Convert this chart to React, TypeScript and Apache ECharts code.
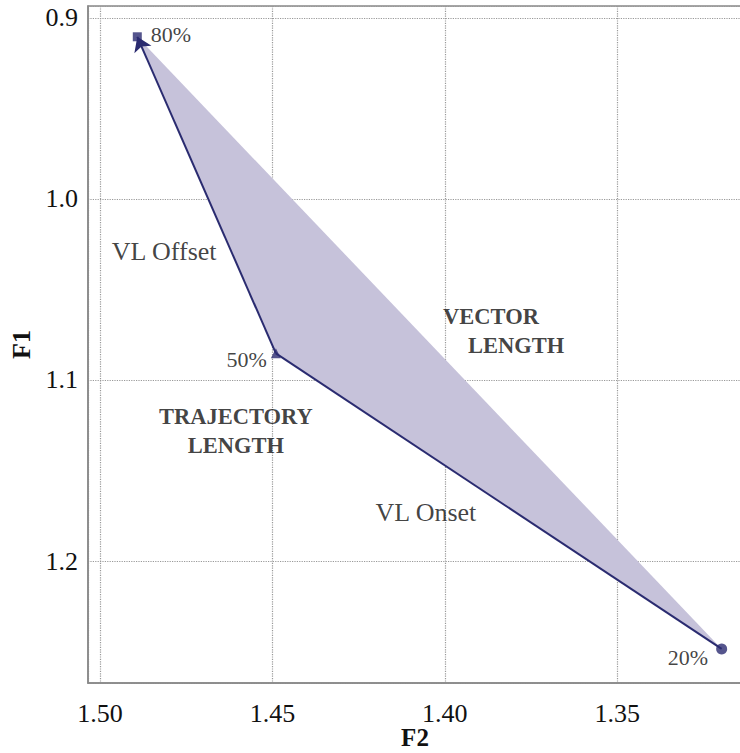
import React, { useEffect, useRef } from "react";
import * as echarts from "echarts";

// Trajectory points (F2 on x, F1 on y)
const pointLabels = ["80%", "50%", "20%"];
const f2Values = [1.4892, 1.449, 1.3197];
const f1Values = [0.9105, 1.0853, 1.2485];

// Annotation texts placed at data coordinates
const plainNotes = ["VL Offset", "VL Onset"];
const plainNoteF2 = [1.4814, 1.4055];
const plainNoteF1 = [1.0289, 1.1734];
const boldNotes = ["VECTOR", "LENGTH", "TRAJECTORY", "LENGTH"];
const boldNoteF2 = [1.3866, 1.3793, 1.4606, 1.4606];
const boldNoteF1 = [1.0652, 1.0812, 1.1204, 1.1359];

// Axis extents
const xMin = 1.3138;
const xMax = 1.5035;
const yMin = 0.8935;
const yMax = 1.2673;

const FONT = '"Liberation Serif", "DejaVu Serif", serif';
const LINE = "#2a2b70";
const FILL = "#c6c2da";
const TEXT = "#111111";

export default function App() {
  const ref = useRef<HTMLDivElement>(null);
  useEffect(() => {
    if (!ref.current) return;
    const chart = echarts.init(ref.current, null, { renderer: "svg" });
    const symbols = ["rect", "triangle", "circle"];
    const sizes = [9, 10, 11];
    const labelPos: any[] = [
      { position: "right", distance: 9, offset: [0, -2] },
      { position: "left", distance: 4, offset: [0, 6] },
      { position: "left", distance: 8, offset: [0, 9] },
    ];
    const pt = (i: number) => [f2Values[i], f1Values[i]];
    chart.setOption({
      animation: false,
      grid: {
        left: 88,
        right: -2,
        top: 6,
        bottom: 70,
        outerBoundsMode: "none",
        containLabel: false,
        show: true,
        borderColor: "#888",
        borderWidth: 1.5,
        backgroundColor: "transparent",
      },
      xAxis: {
        type: "value",
        inverse: true,
        min: xMin,
        max: xMax,
        minInterval: 0.05,
        maxInterval: 0.05,
        name: "F2",
        nameLocation: "middle",
        nameGap: 42,
        nameMoveOverlap: false,
        nameTextStyle: {
          fontFamily: FONT,
          fontSize: 25,
          fontWeight: "bold",
          color: TEXT,
          verticalAlign: "top",
          lineHeight: 25,
        },
        axisLine: { show: true, lineStyle: { color: "#888", width: 1.5 } },
        axisTick: { show: false },
        axisLabel: {
          fontFamily: FONT,
          fontSize: 26,
          color: TEXT,
          margin: 17,
          showMinLabel: false,
          showMaxLabel: false,
          formatter: (v: number) => v.toFixed(2),
        },
        splitLine: { show: true, lineStyle: { color: "#999", type: "dotted", width: 1.2 } },
      },
      yAxis: {
        type: "value",
        inverse: true,
        min: yMin,
        max: yMax,
        minInterval: 0.1,
        maxInterval: 0.1,
        name: "F1",
        nameLocation: "middle",
        nameRotate: 90,
        nameGap: 54,
        nameMoveOverlap: false,
        nameTextStyle: { fontFamily: FONT, fontSize: 26, fontWeight: "bold", color: TEXT },
        axisLine: { show: true, lineStyle: { color: "#888", width: 1.5 } },
        axisTick: { show: false },
        axisLabel: {
          fontFamily: FONT,
          fontSize: 26,
          color: TEXT,
          margin: 10,
          showMinLabel: false,
          showMaxLabel: false,
          formatter: (v: number) => v.toFixed(1),
        },
        splitLine: { show: true, lineStyle: { color: "#999", type: "dotted", width: 1.2 } },
      },
      series: [
        {
          type: "custom",
          coordinateSystem: "cartesian2d",
          data: [pt(0)],
          silent: true,
          z: 1,
          renderItem: (_params: any, api: any) => {
            const pts = f2Values.map((x, i) => api.coord([x, f1Values[i]]));
            return {
              type: "polygon",
              shape: { points: pts },
              style: { fill: FILL, stroke: "none" },
            };
          },
        },
        {
          type: "lines",
          coordinateSystem: "cartesian2d",
          z: 3,
          symbol: ["none", "none"],
          lineStyle: { color: LINE, width: 2, opacity: 1 },
          data: [{ coords: [pt(2), pt(1)] }],
        },
        {
          type: "lines",
          coordinateSystem: "cartesian2d",
          z: 3,
          symbol: ["none", "arrow"],
          symbolSize: 14,
          lineStyle: { color: LINE, width: 2, opacity: 1 },
          data: [{ coords: [pt(1), pt(0)] }],
        },
        {
          type: "scatter",
          z: 4,
          data: pointLabels.map((name, i) => ({
            name,
            value: pt(i),
            symbol: symbols[i],
            symbolSize: sizes[i],
            label: {
              show: true,
              formatter: name,
              fontFamily: FONT,
              fontSize: 22,
              color: TEXT,
              ...labelPos[i],
            },
          })),
          itemStyle: { color: LINE },
        },
        {
          type: "scatter",
          z: 5,
          symbolSize: 0,
          silent: true,
          data: plainNotes.map((name, i) => ({ name, value: [plainNoteF2[i], plainNoteF1[i]] })),
          label: {
            show: true,
            position: "inside",
            formatter: (p: any) => p.name,
            fontFamily: FONT,
            fontSize: 26,
            color: TEXT,
          },
        },
        {
          type: "scatter",
          z: 5,
          symbolSize: 0,
          silent: true,
          data: boldNotes.map((name, i) => ({ name, value: [boldNoteF2[i], boldNoteF1[i]] })),
          label: {
            show: true,
            position: "inside",
            formatter: (p: any) => p.name,
            fontFamily: FONT,
            fontSize: 22.5,
            fontWeight: "bold",
            color: TEXT,
          },
        },
      ],
    });
    return () => chart.dispose();
  }, []);
  return (
    <div
      ref={ref}
      style={{ position: "absolute", left: 0, top: 0, width: 740, height: 753, background: "#fff" }}
    />
  );
}
